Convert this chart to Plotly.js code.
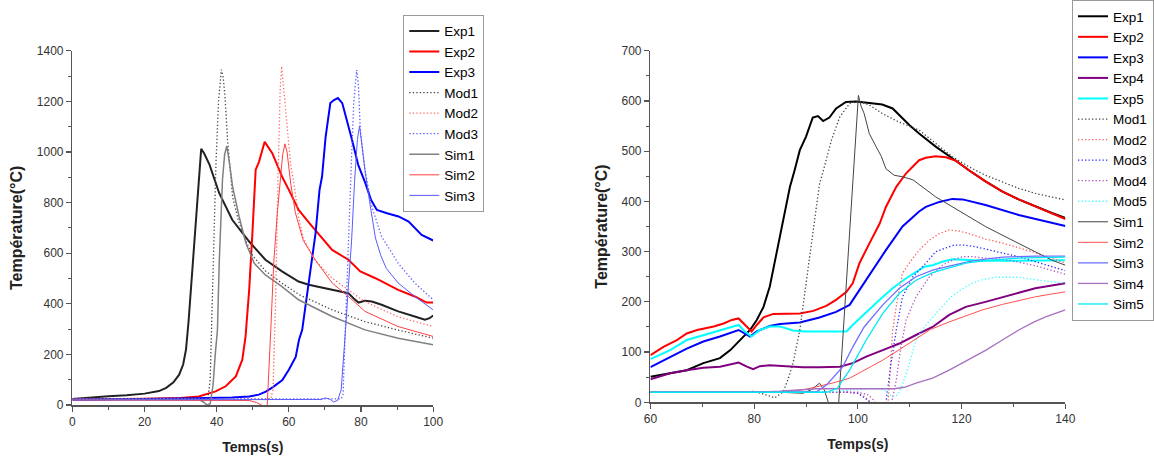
<!DOCTYPE html>
<html>
<head>
<meta charset="utf-8">
<script src="https://cdn.plot.ly/plotly-3.0.1.min.js"></script>
<style>html,body{margin:0;padding:0;background:#fff;}#chart{width:1154px;height:459px;}</style>
</head>
<body>
<div id="chart"></div>
<script>
// ---------- LEFT CHART DATA (Temps s, Température °C) ----------
const L_EXP1_X = [0,5,10,15,20,24,26,28,29.6,30.7,31.5,32.2,32.8,33.3,34.2,34.8,35.7,36.5,38,40.7,44.3,49,53.5,58.1,62.7,65.5,70.1,73.8,76.5,77.9,79.3,81.1,83,85.7,90.3,94.9,97.7,99,100];
const L_EXP1_Y = [24,31,35,39,45,55,68,90,120,160,220,330,450,560,720,860,1012,995,950,837,732,646,574,528,488,475,462,449,442,422,405,412,409,396,370,350,337,343,354];
const L_EXP2_X = [0,10,20,30,35,39.7,42.5,45.3,47.1,48,49,49.9,50.8,51.7,53.3,55.4,58.1,60,62.7,66.5,72,76.5,79.8,84,90.3,94.9,98.2,100];
const L_EXP2_Y = [22,23,25,28,34,54,74,113,179,271,455,680,930,960,1040,995,903,850,771,705,613,574,528,501,455,429,405,405];
const L_EXP3_X = [0,10,20,30,40,44.3,49,51.7,53.6,55.5,58.2,60,61.9,62.8,63.7,65,66.4,67.4,68.5,69.2,70.2,71.5,72.5,73.6,74.8,76.2,77.5,79.2,81.2,82.8,84.4,87.2,90.4,93.2,96.8,100];
const L_EXP3_Y = [22,22,24,26,28,30,34,41,53,70,99,139,190,257,297,429,587,679,850,903,1061,1193,1205,1213,1193,1120,1048,950,877,810,771,758,745,725,672,650];
const L_MOD1_X = [0,10,20,30,36,37.5,38.2,38.8,39.3,39.8,40.5,41.3,41.8,42.3,43,44.4,46,48,50,53.5,58,63,72,81,90,100];
const L_MOD1_Y = [22,22,22,22,22,20,100,428,700,956,1200,1325,1295,1219,1048,824,730,650,590,530,482,435,376,330,297,264];
const L_MOD2_X = [0,20,40,50,55,55.6,56.3,57,57.6,58,58.6,59.5,60.5,61.4,62.7,64,67,72,77,81,90,100];
const L_MOD2_Y = [24,24,24,24,24,60,400,900,1250,1338,1250,1100,950,877,740,660,575,501,450,409,350,310];
const L_MOD3_X = [0,20,40,60,70,74.5,75,75.5,76.1,76.6,77.3,78,78.8,79.3,79.8,81.1,83,85.7,90.3,94.9,100];
const L_MOD3_Y = [24,24,24,24,24,24,40,250,450,652,950,1200,1324,1260,1087,929,784,666,560,482,416];
const L_SIM1_X = [0,10,20,30,35,36.3,37.3,38.2,39,39.6,40.2,40.7,41.6,42.2,42.8,43.5,44.4,46.2,48.1,50.4,53.5,58.1,62.7,72,81.1,90.3,100];
const L_SIM1_Y = [22,22,22,22,22,12,0,5,80,200,296,561,890,990,1024,960,863,745,639,560,514,468,416,350,297,264,238];
const L_SIM2_X = [0,20,40,47,49,51,52.5,53.5,54,55,55.8,56.8,57.6,58.3,58.9,59.5,60.5,61.8,64,67.3,72,76.5,81.1,90.3,100];
const L_SIM2_Y = [20,20,20,20,18,10,0,-20,0,300,560,760,900,990,1032,1000,877,760,650,574,482,429,370,310,271];
const L_SIM3_X = [0,20,40,60,66,69,70.1,71.3,72.4,73.5,74.5,75.2,75.7,76.5,77.4,78.2,79,79.6,80.3,81.2,82.6,84,85.5,87,90.3,94.9,100];
const L_SIM3_Y = [20,20,20,20,20,22,28,24,12,18,60,180,296,470,652,880,1050,1103,1020,916,784,660,590,540,482,429,376];

// ---------- RIGHT CHART DATA ----------
const R_EXP1_X = [60,63.8,67,70.2,73.4,75.4,77.3,79.2,80.5,81.8,83,84.3,85.6,86.9,87.8,88.8,90,91.3,92.3,93.3,94.5,95.8,97.7,99.6,102.2,104.7,106.7,109.9,111.8,115,118.2,121.4,124.6,127.8,131,134.2,137.4,140];
const R_EXP1_Y = [51,58,64,78,88,104,124,144,164,190,230,297,363,429,462,502,529,567,570,560,567,585,598,599,596,593,585,552,535,509,486,462,440,420,404,390,377,367];
const R_EXP2_X = [60,62.6,65.1,67,69,72.2,74.1,75.7,77,78.2,79.5,80.5,81.8,83.7,86.2,88.8,91.4,93.9,95.8,97.8,99,100.3,102.2,104.2,105.4,107.4,109.3,111.8,113.1,115,117,118.9,121.4,124.6,127.8,131,134.2,137.4,140];
const R_EXP2_Y = [94,111,124,137,144,151,157,164,167,154,141,154,169,176,176,177,182,192,204,220,237,277,316,356,389,429,456,482,487,490,488,481,462,440,420,404,390,377,365];
const R_EXP3_X = [60,63.8,67,70.2,73.4,77,79.2,80.5,83,85,88.8,92.6,95.8,98.4,100.3,102.8,105.4,108.6,111.8,113.1,115.7,118.2,120.2,124.6,131,140];
const R_EXP3_Y = [70,91,107,121,131,144,131,141,152,156,159,169,180,194,224,263,303,350,380,389,399,405,404,393,373,351];
const R_EXP4_X = [60,63.8,67,70.2,73.4,77,78.6,79.8,81.1,83,86.2,89.4,92.6,96.5,99,101.6,104.8,108,111.2,114.4,117.6,120.8,124.6,127.9,131,134.2,140];
const R_EXP4_Y = [46,58,64,69,71,79,71,66,72,74,72,70,70,71,78,91,104,117,134,150,174,190,200,210,218,227,237];
const R_EXP5_X = [60,63.8,67,70.2,73.4,77,78.2,79.5,81.1,83,85,87.5,90,95,97.8,99,101.6,104.2,106.7,109.3,111.8,112.8,114.4,116.3,118.2,121.4,124.6,131,140];
const R_EXP5_Y = [86,104,124,134,144,154,141,131,144,151,151,143,141,141,141,154,180,204,227,247,263,270,273,280,285,283,282,282,283];
const R_MOD1_X = [60,70,78,80,82,84,85.6,86.5,87.5,88.8,90.1,91.4,92.6,93.3,94.9,96.5,98.4,100,102.2,104.7,107.9,111.8,115,118.2,121.4,124.6,127.8,131,134.2,137,140];
const R_MOD1_Y = [20,20,20,22,15,9,21,45,78,144,244,343,435,460,522,568,595,600,592,575,558,542,516,489,469,452,439,426,416,409,403];
const R_MOD2_X = [60,80,90,98,100,101.5,102.3,103,105,105.8,106.1,106.7,107.7,108.6,109.9,111.8,113.8,115.7,117.6,119.5,121.4,124.6,127.9,131,134.2,137,140];
const R_MOD2_Y = [20,20,20,20,18,10,0,-30,-30,0,44,144,210,257,277,303,323,336,343,341,336,325,317,308,298,288,277];
const R_MOD3_X = [60,80,90,98,100,101.5,102.5,103,104.8,105.4,106.4,107.4,108.6,110.6,113.1,115,118.5,120.5,122.6,124.6,127.9,131,134.2,140];
const R_MOD3_Y = [20,20,20,20,18,8,0,-30,-30,0,78,144,210,250,277,300,313,313,310,305,297,290,280,262];
const R_MOD4_X = [60,80,90,100,102,103,104.5,105.5,106.5,107.4,108.3,109.3,111.2,113.8,116.3,118.2,120.2,122,124.6,127.9,131,134.2,140];
const R_MOD4_Y = [20,20,20,20,15,5,-20,-20,0,44,111,164,210,250,273,283,290,290,287,285,279,272,255];
const R_MOD5_X = [60,80,90,95,100,103,105,106.7,107.7,108.7,110,111.2,112.8,114.4,116,118,120,122,124,126.6,131,134.2,140];
const R_MOD5_Y = [20,20,20,21,26,28,25,11,15,38,80,124,150,170,188,210,225,237,244,249,249,244,237];
const R_SIM1_X = [60,70,80,85,89.4,91,92.6,93.5,94.3,95,95.9,96.3,100.1,100.6,101.2,102.2,103.5,104.5,105.4,107,108.6,110.6,115,118.2,121.4,124.6,127.8,131,134.2,137.4,140];
const R_SIM1_Y = [20,20,20,20,18,25,38,25,0,-40,-40,0,611,590,575,535,509,490,465,452,449,443,409,389,370,350,333,316,300,283,273];
const R_SIM2_X = [60,80,85,88,90,92,95,98.4,101,104.8,108,111.2,114,117.6,120.8,124,127.9,131,134.2,137,140];
const R_SIM2_Y = [20,20,21,23,26,31,38,48,62,84,105,127,145,160,172,184,195,203,210,215,220];
const R_SIM3_X = [60,80,88,92,94,97.1,99,101.2,104.8,108,111.2,114.4,117.6,121.4,124.5,127.9,131,134.2,140];
const R_SIM3_Y = [20,20,20,21,35,71,110,150,194,227,250,263,271,280,285,289,290,291,291];
const R_SIM4_X = [60,80,85,92,100,107,109,111.2,114.4,117.6,120.8,124.7,128,131,134,136.2,140];
const R_SIM4_Y = [20,20,22,27,27,27,30,38,48,64,82,104,125,144,160,170,184];
const R_SIM5_X = [60,80,90,94,96,98.4,101.6,104.8,108,111.2,114.4,117.6,120.8,124.5,128,131,134.2,140];
const R_SIM5_Y = [20,20,20,20,28,64,124,177,217,243,258,268,277,282,285,287,288,289];

const LEFT_NAMES = ['Exp1','Exp2','Exp3','Mod1','Mod2','Mod3','Sim1','Sim2','Sim3'];
const RIGHT_NAMES = ['Exp1','Exp2','Exp3','Exp4','Exp5','Mod1','Mod2','Mod3','Mod4','Mod5','Sim1','Sim2','Sim3','Sim4','Sim5'];
const X_TICKS_LEFT = [0,20,40,60,80,100];
const Y_TICKS_LEFT = [0,200,400,600,800,1000,1200,1400];
const X_TICKS_RIGHT = [60,80,100,120,140];
const Y_TICKS_RIGHT = [0,100,200,300,400,500,600,700];

// ---------- styles ----------
const DOT = '1.3px,2.2px';
const leftData = [
  [L_EXP1_X,L_EXP1_Y],[L_EXP2_X,L_EXP2_Y],[L_EXP3_X,L_EXP3_Y],
  [L_MOD1_X,L_MOD1_Y],[L_MOD2_X,L_MOD2_Y],[L_MOD3_X,L_MOD3_Y],
  [L_SIM1_X,L_SIM1_Y],[L_SIM2_X,L_SIM2_Y],[L_SIM3_X,L_SIM3_Y]];
const leftStyle = [
  {color:'#222222',width:2,dash:'solid'},{color:'#ff0000',width:2,dash:'solid'},{color:'#0000ff',width:2,dash:'solid'},
  {color:'#444444',width:1.3,dash:DOT},{color:'#ff6a6a',width:1.3,dash:DOT},{color:'#5a5aff',width:1.3,dash:DOT},
  {color:'#808080',width:1.5,dash:'solid'},{color:'#ff4040',width:1,dash:'solid'},{color:'#5a5aff',width:1,dash:'solid'}];
const rightData = [
  [R_EXP1_X,R_EXP1_Y],[R_EXP2_X,R_EXP2_Y],[R_EXP3_X,R_EXP3_Y],[R_EXP4_X,R_EXP4_Y],[R_EXP5_X,R_EXP5_Y],
  [R_MOD1_X,R_MOD1_Y],[R_MOD2_X,R_MOD2_Y],[R_MOD3_X,R_MOD3_Y],[R_MOD4_X,R_MOD4_Y],[R_MOD5_X,R_MOD5_Y],
  [R_SIM1_X,R_SIM1_Y],[R_SIM2_X,R_SIM2_Y],[R_SIM3_X,R_SIM3_Y],[R_SIM4_X,R_SIM4_Y],[R_SIM5_X,R_SIM5_Y]];
const rightStyle = [
  {color:'#000000',width:2,dash:'solid'},{color:'#ff0000',width:2,dash:'solid'},{color:'#0000ff',width:2,dash:'solid'},
  {color:'#800080',width:2,dash:'solid'},{color:'#00ffff',width:2,dash:'solid'},
  {color:'#444444',width:1.3,dash:DOT},{color:'#ff5a5a',width:1.3,dash:DOT},{color:'#2a2aff',width:1.3,dash:DOT},
  {color:'#b050c0',width:1.3,dash:DOT},{color:'#40ffff',width:1.3,dash:DOT},
  {color:'#444444',width:1,dash:'solid'},{color:'#ff5050',width:1,dash:'solid'},{color:'#7070ff',width:1.3,dash:'solid'},
  {color:'#a870c0',width:1.3,dash:'solid'},{color:'#00e8f0',width:1.3,dash:'solid'}];

const traces = [];
leftData.forEach((d,i)=>traces.push({type:'scatter',mode:'lines',x:d[0],y:d[1],name:LEFT_NAMES[i],
  xaxis:'x',yaxis:'y',legend:'legend',line:Object.assign({},leftStyle[i]),hoverinfo:'skip'}));
rightData.forEach((d,i)=>traces.push({type:'scatter',mode:'lines',x:d[0],y:d[1],name:RIGHT_NAMES[i],
  xaxis:'x2',yaxis:'y2',legend:'legend2',line:Object.assign({},rightStyle[i]),hoverinfo:'skip'}));

const FONT = 'Liberation Sans, Arial, sans-serif';
function xAxis(domain, range, ticks, anchor){
  return {domain:domain, range:range, anchor:anchor, tickvals:ticks, ticktext:ticks.map(String),
    showline:true, linecolor:'#555', linewidth:1.5, ticks:'outside', ticklen:5, tickwidth:1.2, tickcolor:'#555',
    minor:{ticks:'outside', ticklen:3, tickwidth:1, tickcolor:'#555', dtick:10, tick0:0, showgrid:false},
    showgrid:false, zeroline:false, automargin:false,
    tickfont:{family:FONT,size:12,color:'#333'},
    title:{text:'<b>Temps(s)</b>', font:{family:FONT,size:14,color:'#222'}, standoff:14}};
}
function yAxis(domain, range, ticks, anchor, minorStep){
  return {domain:domain, range:range, anchor:anchor, tickvals:ticks, ticktext:ticks.map(String),
    showline:true, linecolor:'#555', linewidth:1.5, ticks:'outside', ticklen:5, tickwidth:1.2, tickcolor:'#555',
    minor:{ticks:'outside', ticklen:3, tickwidth:1, tickcolor:'#555', dtick:minorStep, tick0:0, showgrid:false},
    showgrid:false, zeroline:false, automargin:false,
    tickfont:{family:FONT,size:12,color:'#333'},
    title:{text:'<b>Température(°C)</b>', font:{family:FONT,size:16,color:'#222'}, standoff:10}};
}

const layout = {
  width:1154, height:459,
  margin:{l:0,r:0,t:0,b:0},
  paper_bgcolor:'#ffffff', plot_bgcolor:'#ffffff',
  font:{family:FONT},
  xaxis: xAxis([0.0630,0.3770],[0,100],X_TICKS_LEFT,'y'),
  yaxis: yAxis([0.1176,0.8895],[0,1400],Y_TICKS_LEFT,'x',100),
  xaxis2: xAxis([0.5661,0.9272],[60,140],X_TICKS_RIGHT,'y2'),
  yaxis2: yAxis([0.1235,0.8895],[0,700],Y_TICKS_RIGHT,'x2',50),
  legend:{x:0.351, y:0.968, xanchor:'left', yanchor:'top', bgcolor:'#ffffff', bordercolor:'#999', borderwidth:1,
    font:{family:FONT,size:13.5,color:'#000'}, itemwidth:30, tracegroupgap:0},
  legend2:{x:0.933, y:1.0, xanchor:'left', yanchor:'top', bgcolor:'#ffffff', bordercolor:'#999', borderwidth:1,
    font:{family:FONT,size:13.5,color:'#000'}, itemwidth:30, tracegroupgap:0},
  showlegend:true
};

Plotly.newPlot('chart', traces, layout, {displayModeBar:false, staticPlot:true});
</script>
</body>
</html>
